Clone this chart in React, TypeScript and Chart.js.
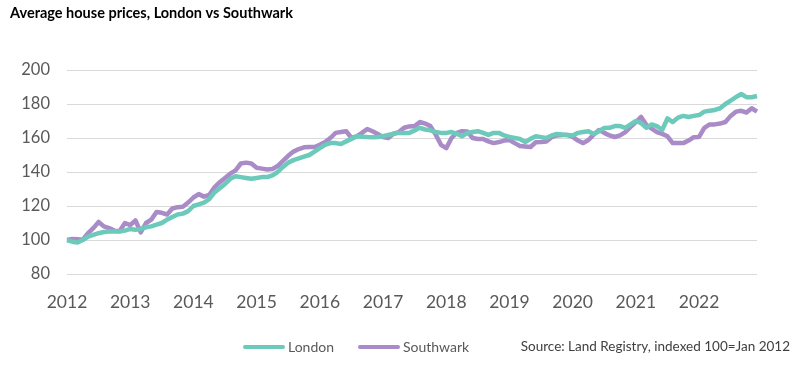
import React, { useEffect, useRef } from "react";
import { Chart, registerables } from "chart.js";

Chart.register(...registerables);

const years = [2012, 2013, 2014, 2015, 2016, 2017, 2018, 2019, 2020, 2021, 2022];
const monthNames = ["Jan", "Feb", "Mar", "Apr", "May", "Jun", "Jul", "Aug", "Sep", "Oct", "Nov", "Dec"];
const categories: string[] = years.flatMap((y) => monthNames.map((m) => `${m} ${y}`));

const londonValues = [
  100, 99, 98.5, 100, 102, 103, 104, 104.7, 105, 105, 105, 105.5,
  106.5, 106, 106.5, 107.5, 108, 109, 110, 112, 113.5, 115, 115.5, 117,
  120, 121, 122, 124, 128, 130.5, 133, 136, 137.5, 137, 136.5, 136,
  136.5, 137, 137, 138, 140, 143, 145.5, 147, 148, 149, 150, 152,
  154, 156, 157, 157, 156.5, 158, 159.5, 161, 160.8, 160.6, 160.5, 160.6,
  161, 161.8, 162.5, 163, 163, 163, 164.5, 166, 165, 164.5, 163.5, 163,
  163, 163.5, 162.5, 161, 163, 163.5, 164, 163, 161.8, 163, 163, 161.5,
  160.6, 160, 159.4, 157.6, 159.5, 161, 160.5, 160, 161.5, 162.4, 162, 161.8,
  161.5, 163, 163.5, 164, 162.4, 164, 165.9, 166, 167, 167, 165.9, 168,
  170, 168.8, 166, 168, 167, 164.7, 171.5, 169.4, 172, 173, 172.4, 173,
  173.5, 175.5, 176, 176.5, 177.5, 180, 182, 184, 185.9, 184, 184, 184.7,
];

const southwarkValues = [
  100, 100.6, 100.5, 100.2, 104, 107, 110.6, 108, 107, 105.5, 105.3, 110,
  108.8, 111.5, 104.5, 110, 112, 116.5, 116, 115, 118.5, 119.3, 119.5, 122,
  125, 127, 125.5, 126.5, 131, 134, 136.5, 139, 141, 145, 145.5, 145,
  142.5, 142, 141.5, 141.8, 143.5, 146.5, 149.5, 152, 153.5, 154.5, 154.7, 154.7,
  156, 157.6, 160, 163, 163.5, 164, 160, 161, 163, 165.3, 164, 162.4,
  160.5, 160, 162.5, 163.5, 166, 166.8, 167, 169.4, 168.5, 167, 162, 156,
  154, 160, 163, 164, 163.8, 160, 159.4, 159.4, 158, 157, 157.6, 158.5,
  158.8, 157, 155.3, 155, 154.7, 157.5, 157.6, 158, 160.5, 161.5, 161.8, 161.8,
  160.6, 158.5, 157, 158.8, 162, 164.7, 163, 161.5, 160.6, 161.5, 163.5, 166.5,
  169.4, 172.4, 167.6, 165.5, 163.5, 162.4, 161, 157, 157, 157, 158.5, 160.5,
  160.6, 166, 168, 168, 168.5, 169.4, 173, 175.5, 176, 175, 177.5, 175.5,
];

const seriesNames = ["London", "Southwark"];
const titleText = "Average house prices, London vs Southwark";
const sourceText = "Source: Land Registry, indexed 100=Jan 2012";
const yTicks = { min: 80, max: 200, step: 20 };

const FONT = "Lato, 'Open Sans', sans-serif";
const TEAL = "#6CCABA";
const PURPLE = "#A88BC7";
const GREY = "#595959";

const legendPlugin = {
  id: "customLegendSource",
  afterDraw(chart: any) {
    const ctx = chart.ctx;
    const y = 347;
    ctx.save();
    ctx.font = `14px ${FONT}`;
    ctx.textBaseline = "middle";
    ctx.textAlign = "left";
    const items = [
      { x: 243, ds: chart.data.datasets[0] },
      { x: 358, ds: chart.data.datasets[1] },
    ];
    items.forEach((it) => {
      ctx.strokeStyle = it.ds.borderColor;
      ctx.lineWidth = 4;
      ctx.lineCap = "round";
      ctx.beginPath();
      ctx.moveTo(it.x + 2, y);
      ctx.lineTo(it.x + 40, y);
      ctx.stroke();
      ctx.fillStyle = GREY;
      ctx.fillText(it.ds.label, it.x + 45, y);
    });
    ctx.font = `13.5px ${FONT}`;
    ctx.fillStyle = "#404040";
    ctx.textAlign = "right";
    ctx.fillText(sourceText, 790, y);
    ctx.restore();
  },
};

export default function App() {
  const ref = useRef<HTMLCanvasElement | null>(null);

  useEffect(() => {
    document.body.style.margin = "0";
    if (!ref.current) return;
    const chart = new Chart(ref.current, {
      type: "line",
      data: {
        labels: categories,
        datasets: [
          {
            label: seriesNames[0],
            data: londonValues,
            borderColor: TEAL,
            backgroundColor: TEAL,
            borderWidth: 4.5,
            pointRadius: 0,
            tension: 0,
            borderJoinStyle: "round",
          },
          {
            label: seriesNames[1],
            data: southwarkValues,
            borderColor: PURPLE,
            backgroundColor: PURPLE,
            borderWidth: 4.5,
            pointRadius: 0,
            tension: 0,
            borderJoinStyle: "round",
          },
        ],
      },
      options: {
        animation: false,
        responsive: false,
        devicePixelRatio: 1,
        layout: { padding: { left: 10, right: 43, top: 0, bottom: 37 } },
        plugins: {
          legend: { display: false },
          tooltip: { enabled: false },
          title: {
            display: true,
            text: titleText,
            align: "start",
            color: "#000000",
            font: { family: FONT, size: 14.5, weight: "bold" },
            padding: { top: 5, bottom: 47.6 },
          },
        },
        scales: {
          x: {
            type: "category",
            offset: false,
            grid: { display: false },
            border: { display: false },
            afterFit: (s: any) => {
              s.height = 60;
            },
            ticks: {
              autoSkip: false,
              maxRotation: 0,
              minRotation: 0,
              padding: 10,
              color: GREY,
              font: { family: FONT, size: 17.5 },
              callback: function (this: any, value: any, index: number) {
                const lab = categories[index];
                return lab.startsWith("Jan") ? lab.slice(4) : "";
              },
            },
          },
          y: {
            min: yTicks.min,
            max: yTicks.max,
            grid: { color: "#D9D9D9", lineWidth: 1, drawTicks: false },
            border: { display: false },
            afterFit: (s: any) => {
              s.width = 57;
            },
            ticks: {
              stepSize: yTicks.step,
              padding: 17,
              color: GREY,
              font: { family: FONT, size: 16.5 },
            },
          },
        },
      },
      plugins: [legendPlugin],
    });
    return () => chart.destroy();
  }, []);

  return (
    <div style={{ width: 800, height: 371 }}>
      <canvas ref={ref} width={800} height={371} />
    </div>
  );
}
